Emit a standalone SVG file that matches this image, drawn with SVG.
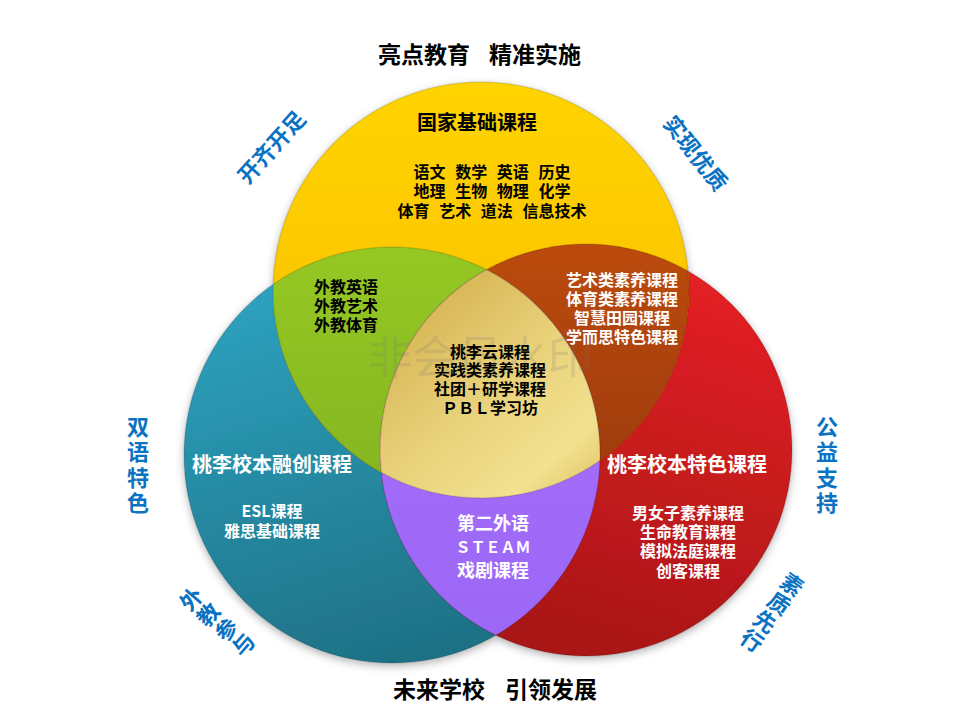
<svg xmlns="http://www.w3.org/2000/svg" width="960" height="720" viewBox="0 0 960 720">
<style>
text{font-family:"Noto Sans CJK SC","Noto Sans CJK JP",sans-serif;font-weight:700;text-anchor:middle;}
.k{fill:#000;font-size:16px;}
.w{fill:#fff;font-size:16px;}
.bl{fill:#0A72C2;font-size:22px;}
.h{fill:#000;font-size:23px;}
.wm{fill:#777;font-weight:400;font-size:45px;opacity:0.18;}
.edge{fill:none;stroke:#000;stroke-opacity:0.12;stroke-width:1.5;}
</style>
<defs>
<circle id="cY" cx="481" cy="290" r="208"/>
<circle id="cT" cx="392" cy="455" r="208"/>
<circle id="cR" cx="586" cy="450" r="206"/>
<clipPath id="clipY"><use href="#cY"/></clipPath>
<clipPath id="clipT"><use href="#cT"/></clipPath>
<clipPath id="clipR"><use href="#cR"/></clipPath>
<linearGradient id="gY" x1="0" y1="0" x2="0" y2="1"><stop offset="0" stop-color="#FFD400"/><stop offset="1" stop-color="#F7B900"/></linearGradient>
<linearGradient id="gT" x1="0.2" y1="0" x2="0.5" y2="1"><stop offset="0" stop-color="#2FA6C4"/><stop offset="1" stop-color="#1E7185"/></linearGradient>
<linearGradient id="gR" x1="0.8" y1="0" x2="0.5" y2="1"><stop offset="0" stop-color="#E82126"/><stop offset="1" stop-color="#A81616"/></linearGradient>
<linearGradient id="gG" x1="0" y1="0" x2="0" y2="1"><stop offset="0" stop-color="#95C824"/><stop offset="0.6" stop-color="#84B51F"/><stop offset="1" stop-color="#678F1A"/></linearGradient>
<linearGradient id="gB" x1="0" y1="0" x2="0" y2="1"><stop offset="0" stop-color="#BC4A0C"/><stop offset="1" stop-color="#873105"/></linearGradient>
<linearGradient id="gP" x1="0" y1="0" x2="0" y2="1"><stop offset="0" stop-color="#A873FF"/><stop offset="1" stop-color="#9C66F6"/></linearGradient>
<linearGradient id="gC" x1="0.1" y1="0" x2="0.9" y2="0.9"><stop offset="0" stop-color="#CFAA45"/><stop offset="0.3" stop-color="#E8D078"/><stop offset="0.5" stop-color="#F3E190"/><stop offset="0.68" stop-color="#D3B04A"/><stop offset="0.85" stop-color="#ECD784"/><stop offset="1" stop-color="#E0C86E"/></linearGradient>
<filter id="sh" x="-10%" y="-10%" width="120%" height="120%"><feDropShadow dx="0" dy="3" stdDeviation="4" flood-color="#000" flood-opacity="0.3"/></filter>
</defs>

<g id="circles">
<g filter="url(#sh)">
<g id="teal"><use href="#cT" fill="url(#gT)"/></g>
<g id="red"><use href="#cR" fill="url(#gR)"/></g>
<g id="yellow"><use href="#cY" fill="url(#gY)"/></g>
<g id="green" clip-path="url(#clipY)"><use href="#cT" fill="url(#gG)"/></g>
<g id="brown" clip-path="url(#clipY)"><use href="#cR" fill="url(#gB)"/></g>
<g id="purple" clip-path="url(#clipT)"><use href="#cR" fill="url(#gP)"/></g>
<g id="gold" clip-path="url(#clipY)"><g clip-path="url(#clipT)"><use href="#cR" fill="url(#gC)"/></g></g>
</g>
<use href="#cY" class="edge"/>
<use href="#cT" class="edge"/>
<use href="#cR" class="edge"/>
</g>

<text class="wm" x="480" y="374">非会员水印</text>

<g id="title-top"><text class="h" x="424" y="63">亮点教育</text><text class="h" x="535" y="63">精准实施</text></g>
<g id="title-bottom"><text class="h" x="439" y="698">未来学校</text><text class="h" x="551" y="698">引领发展</text></g>

<g id="national">
<text class="k" style="font-size:20px" x="477" y="130">国家基础课程</text>
<text class="k" style="word-spacing:6px" x="492" y="178">语文 数学 英语 历史</text>
<text class="k" style="word-spacing:6px" x="492" y="197">地理 生物 物理 化学</text>
<text class="k" style="word-spacing:6px" x="492" y="217">体育 艺术 道法 信息技术</text>
</g>

<g id="foreign">
<text class="k" style="text-anchor:start" x="314" y="293">外教英语</text>
<text class="k" style="text-anchor:start" x="314" y="312">外教艺术</text>
<text class="k" style="text-anchor:start" x="314" y="331">外教体育</text>
</g>

<g id="quality">
<text class="w" x="622" y="286">艺术类素养课程</text>
<text class="w" x="622" y="305">体育类素养课程</text>
<text class="w" x="622" y="324">智慧田园课程</text>
<text class="w" x="622" y="343">学而思特色课程</text>
</g>

<g id="center">
<text class="k" x="490" y="358">桃李云课程</text>
<text class="k" x="490" y="376">实践类素养课程</text>
<text class="k" x="490" y="395">社团＋研学课程</text>
<text class="k" x="490" y="414">ＰＢＬ学习坊</text>
</g>

<g id="fusion">
<text class="w" style="font-size:20px" x="272" y="472">桃李校本融创课程</text>
<text class="w" x="272" y="517">ESL课程</text>
<text class="w" x="272" y="537">雅思基础课程</text>
</g>

<g id="feature">
<text class="w" style="font-size:20px" x="687" y="472">桃李校本特色课程</text>
<text class="w" x="688" y="519">男女子素养课程</text>
<text class="w" x="688" y="538">生命教育课程</text>
<text class="w" x="688" y="557">模拟法庭课程</text>
<text class="w" x="688" y="577">创客课程</text>
</g>

<g id="second">
<text class="w" style="font-size:18px" x="493" y="530">第二外语</text>
<text class="w" style="font-size:15px" x="493" y="553">ＳＴＥＡＭ</text>
<text class="w" style="font-size:18px" x="493" y="577">戏剧课程</text>
</g>

<g id="labels">
<text class="bl" transform="translate(270,146) rotate(-48)" dominant-baseline="central">开齐开足</text>
<text class="bl" transform="translate(697,152) rotate(52)" dominant-baseline="central">实现优质</text>
<g dominant-baseline="central">
<text class="bl" x="138" y="425">双</text><text class="bl" x="138" y="450">语</text><text class="bl" x="138" y="476">特</text><text class="bl" x="138" y="501">色</text>
<text class="bl" x="827" y="425">公</text><text class="bl" x="827" y="450">益</text><text class="bl" x="827" y="476">支</text><text class="bl" x="827" y="501">持</text>
<text class="bl" transform="translate(190,598) rotate(-49)">外</text>
<text class="bl" transform="translate(207,613.5) rotate(-49)">教</text>
<text class="bl" transform="translate(225,628.5) rotate(-49)">参</text>
<text class="bl" transform="translate(242,643.5) rotate(-49)">与</text>
<text class="bl" transform="translate(793,583) rotate(35)">素</text>
<text class="bl" transform="translate(780,602) rotate(35)">质</text>
<text class="bl" transform="translate(766,620) rotate(35)">先</text>
<text class="bl" transform="translate(753,639) rotate(35)">行</text>
</g>
</g>
</svg>
